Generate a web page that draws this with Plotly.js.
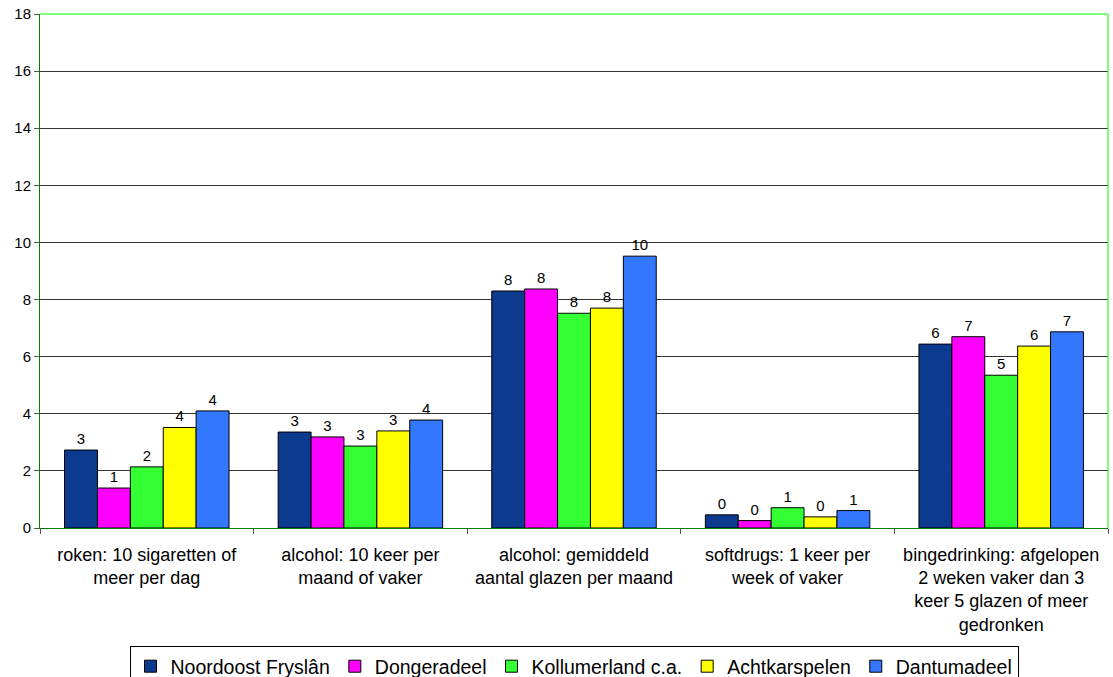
<!DOCTYPE html>
<html>
<head>
<meta charset="utf-8">
<script src="https://cdn.plot.ly/plotly-3.0.1.min.js"></script>
<style>html,body{margin:0;padding:0;background:#fff;}#chart{width:1113px;height:677px;}</style>
</head>
<body>
<div id="chart"></div>
<script>
const categories = [
  "roken: 10 sigaretten of<br>meer per dag",
  "alcohol: 10 keer per<br>maand of vaker",
  "alcohol: gemiddeld<br>aantal glazen per maand",
  "softdrugs: 1 keer per<br>week of vaker",
  "bingedrinking: afgelopen<br>2 weken vaker dan 3<br>keer 5 glazen of meer<br>gedronken"
];
const seriesNames = ["Noordoost Fryslân", "Dongeradeel", "Kollumerland c.a.", "Achtkarspelen", "Dantumadeel"];
const noordoostFryslan = [2.73, 3.36, 8.30, 0.46, 6.44];
const dongeradeel      = [1.40, 3.19, 8.37, 0.26, 6.70];
const kollumerland     = [2.14, 2.87, 7.52, 0.71, 5.35];
const achtkarspelen    = [3.52, 3.40, 7.70, 0.39, 6.37];
const dantumadeel      = [4.10, 3.78, 9.52, 0.61, 6.87];
const colors = ["#0C3A8E", "#FF00FF", "#33FF33", "#FFFF00", "#3377FF"];
const yTicks = [0, 2, 4, 6, 8, 10, 12, 14, 16, 18];

const allValues = [noordoostFryslan, dongeradeel, kollumerland, achtkarspelen, dantumadeel];
const traces = allValues.map((vals, i) => ({
  type: "bar",
  name: seriesNames[i],
  x: categories,
  y: vals,
  marker: { color: colors[i], line: { color: "#000", width: 1 } },
  texttemplate: "%{y:.0f}",
  textposition: "outside",
  textfont: { family: "Liberation Sans, Arial, sans-serif", size: 15, color: "#000" },
  cliponaxis: false,
  hoverinfo: "x+y"
}));

const layout = {
  width: 1113,
  height: 677,
  margin: { l: 40, r: 5, t: 14, b: 149, autoexpand: false },
  paper_bgcolor: "#fff",
  plot_bgcolor: "#fff",
  font: { family: "Liberation Sans, Arial, sans-serif", color: "#000" },
  barmode: "group",
  bargap: 0.23,
  bargroupgap: 0,
  showlegend: true,
  legend: {
    orientation: "h",
    x: 0.5, xanchor: "center",
    y: -0.2296, yanchor: "top",
    bordercolor: "#000", borderwidth: 1,
    bgcolor: "#fff",
    font: { size: 19.5, color: "#000" },
    itemwidth: 30,
    tracegroupgap: 0
  },
  xaxis: {
    type: "category",
    showgrid: false,
    showline: true,
    linecolor: "#008000",
    linewidth: 1,
    ticks: "outside",
    tickson: "boundaries",
    ticklen: 5,
    tickcolor: "#555",
    ticklabelstandoff: 10,
    tickfont: { size: 18, color: "#000" },
    zeroline: false,
    fixedrange: true
  },
  yaxis: {
    range: [0, 18],
    tickvals: yTicks,
    ticktext: yTicks.map(String),
    showgrid: true,
    gridcolor: "#333",
    gridwidth: 1,
    showline: true,
    linecolor: "#008000",
    linewidth: 1,
    ticks: "outside",
    ticklen: 5,
    tickcolor: "#555",
    tickfont: { size: 15, color: "#000" },
    zeroline: false,
    fixedrange: true
  },
  shapes: [
    { type: "line", xref: "paper", yref: "paper", x0: 0, x1: 1, y0: 1, y1: 1, line: { color: "#00FF00", width: 1 } },
    { type: "line", xref: "paper", yref: "paper", x0: 1, x1: 1, y0: 0, y1: 1, line: { color: "#00FF00", width: 1 } }
  ]
};

Plotly.newPlot("chart", traces, layout, { displayModeBar: false, staticPlot: true });
</script>
</body>
</html>
